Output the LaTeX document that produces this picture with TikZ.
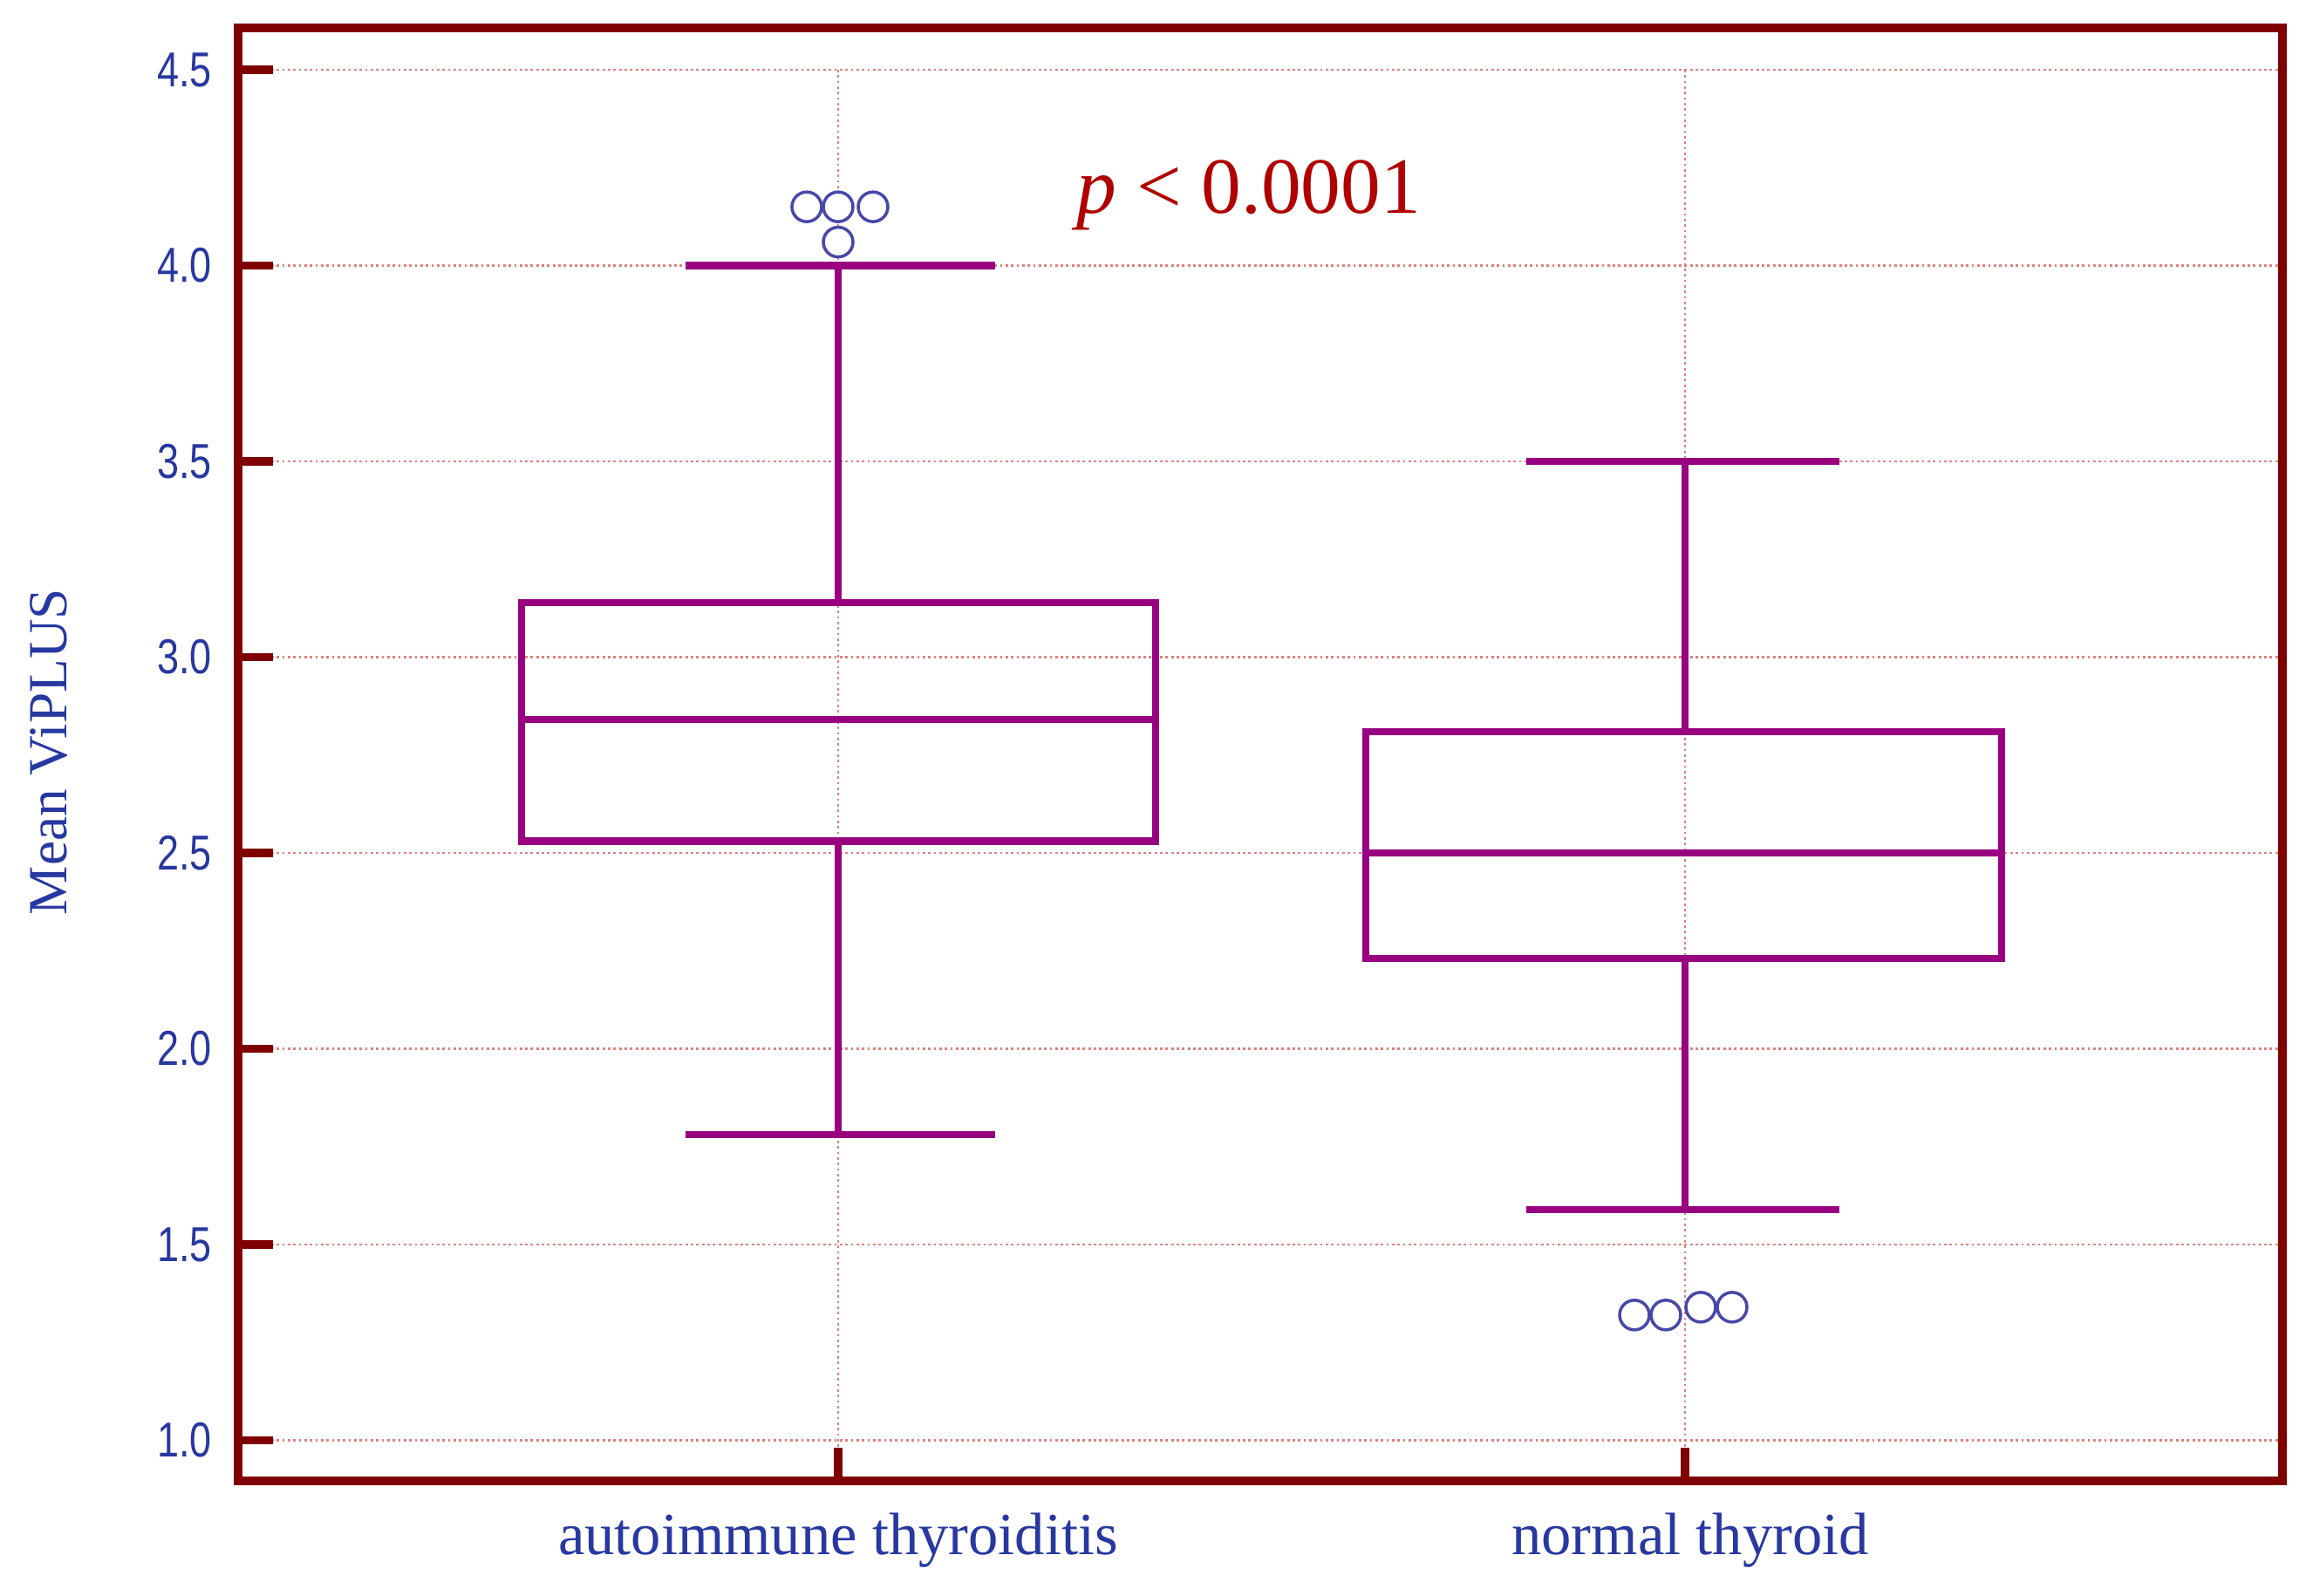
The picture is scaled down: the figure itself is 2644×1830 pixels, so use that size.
\documentclass[tikz,border=0pt]{standalone}
\usepackage{fontspec}
\setmainfont{Liberation Serif}
\newfontfamily\ticks[FakeStretch=0.8]{Liberation Sans}
\definecolor{fr}{HTML}{7F0000}
\definecolor{grd}{HTML}{E08080}
\definecolor{bx}{HTML}{990080}
\definecolor{ci}{HTML}{4848A8}
\definecolor{tx}{HTML}{2838A0}
\definecolor{pr}{HTML}{B00000}
\begin{document}
\begin{tikzpicture}[x=0.01cm,y=-0.01cm,
  gridl/.style={grd,line width=0.8pt,densely dotted},
  boxl/.style={bx,line width=2.3pt},
  outl/.style={ci,line width=1pt},
  tl/.style={tx,font=\ticks\fontsize{16}{16}\selectfont,anchor=east},
  cl/.style={tx,font=\fontsize{19.5}{19.5}\selectfont}]
\useasboundingbox (0,0) rectangle (2644,1830);
\def\Y#1{80+(4.5-#1)*449}
% grid
\foreach \v in {1.0,1.5,2.0,2.5,3.0,3.5,4.0,4.5}{
  \draw[gridl] (273,{\Y{\v}}) -- (2617,{\Y{\v}});
  \draw[fr,line width=2.6pt] (273,{\Y{\v}}) -- (313,{\Y{\v}});
  \node[tl] (t\v) at (255,{\Y{\v}}) {\v};
}
\draw[gridl] (961,80) -- (961,1698);
\draw[gridl] (1932,80) -- (1932,1698);
\draw[fr,line width=2.6pt] (961,1698) -- (961,1660);
\draw[fr,line width=2.6pt] (1932,1698) -- (1932,1660);
\draw[fr,line width=3pt] (273,32) rectangle (2617,1698);
% box 1
\draw[boxl] (598,{\Y{3.14}}) rectangle (1325,{\Y{2.53}});
\draw[boxl] (598,{\Y{2.84}}) -- (1325,{\Y{2.84}});
\draw[boxl] (961,{\Y{3.14}}) -- (961,{\Y{4.0}});
\draw[boxl] (961,{\Y{2.53}}) -- (961,{\Y{1.78}});
\draw[boxl] (786,{\Y{4.0}}) -- (1141,{\Y{4.0}});
\draw[boxl] (786,{\Y{1.78}}) -- (1141,{\Y{1.78}});
% box 2
\draw[boxl] (1566,{\Y{2.81}}) rectangle (2295,{\Y{2.23}});
\draw[boxl] (1566,{\Y{2.50}}) -- (2295,{\Y{2.50}});
\draw[boxl] (1932,{\Y{2.81}}) -- (1932,{\Y{3.5}});
\draw[boxl] (1932,{\Y{2.23}}) -- (1932,{\Y{1.59}});
\draw[boxl] (1750,{\Y{3.5}}) -- (2109,{\Y{3.5}});
\draw[boxl] (1750,{\Y{1.59}}) -- (2109,{\Y{1.59}});
% outliers
\foreach \x/\v in {925/4.15,961/4.15,1001/4.15,961/4.06,1874/1.32,1910/1.32,1950/1.34,1986/1.34}
  \draw[outl,fill=white] (\x,{\Y{\v}}) circle (17);
% texts
\node[pr,font=\fontsize{26}{26}\selectfont,anchor=west] (p) at (1222,224) {\textit{p} < 0.0001};
\node[cl] (c1) at (961,1766) {autoimmune thyroiditis};
\node[cl] (c2) at (1938,1766) {normal thyroid};
\node[cl,font=\fontsize{18}{18}\selectfont,rotate=90] (yl) at (56,862) {Mean ViPLUS};
\end{tikzpicture}
\end{document}
